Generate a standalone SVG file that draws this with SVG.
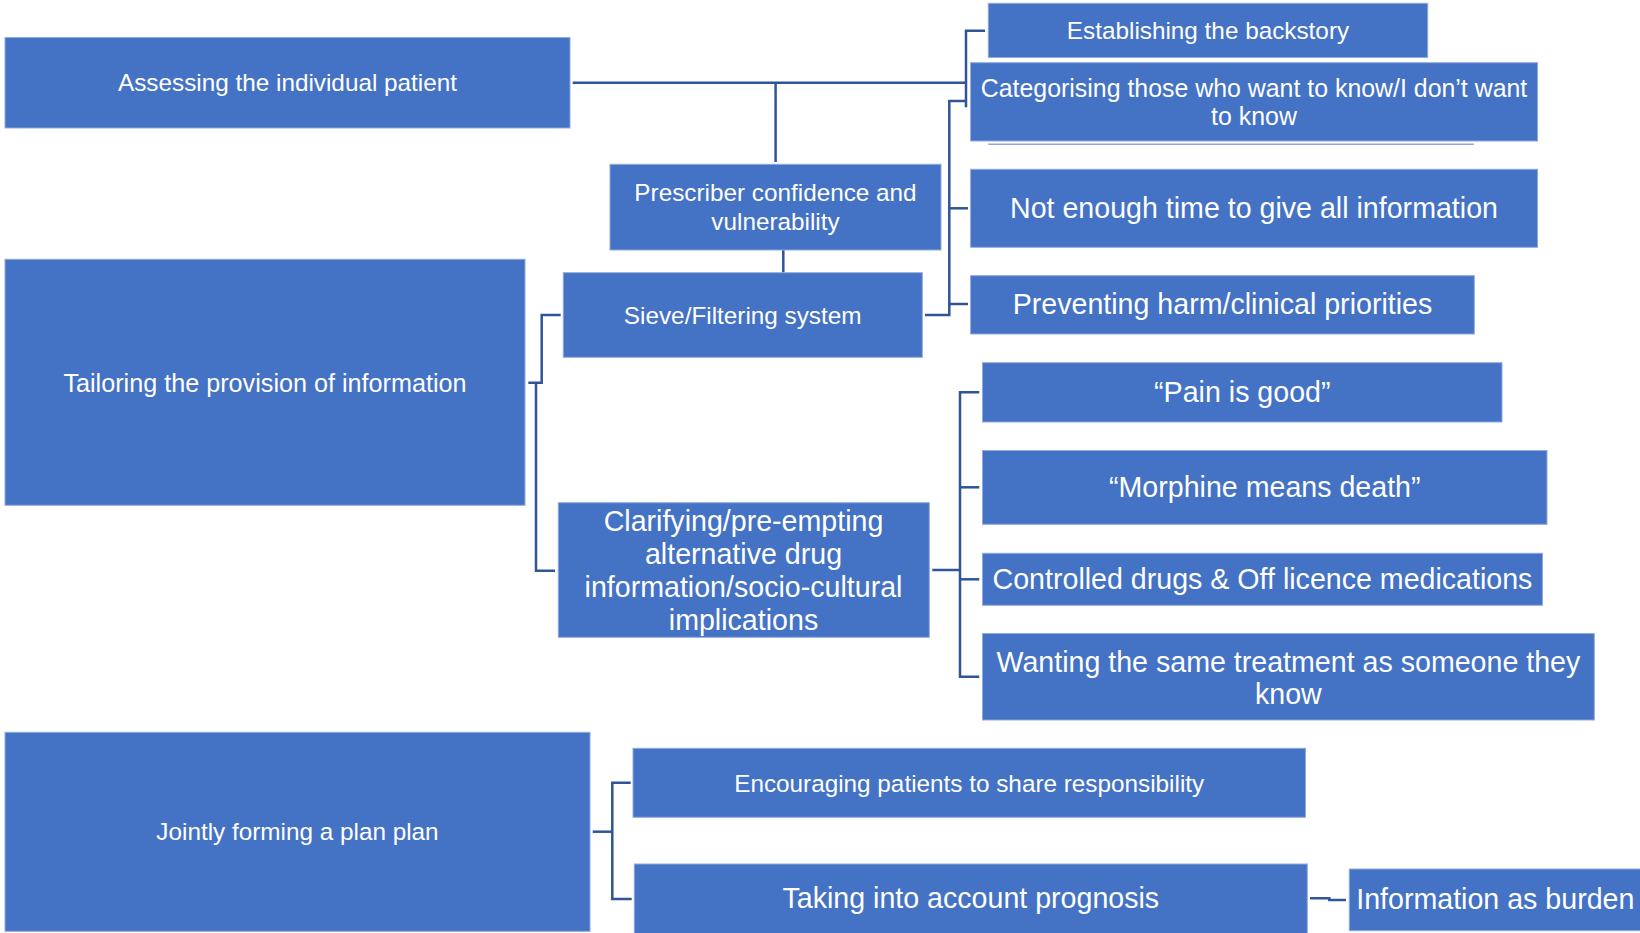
<svg xmlns="http://www.w3.org/2000/svg" width="1640" height="933" viewBox="0 0 1640 933">
<style>
.box{fill:#4472C4;stroke:#8FAADC;stroke-width:1}
.t{fill:#FFFFFF;font-family:"Liberation Sans",Arial,sans-serif;text-anchor:middle;dominant-baseline:central}
.s{font-size:24.3px}
.l{font-size:28.6px}
.c{fill:none;stroke:#2F5597;stroke-width:2.5}
</style>
<rect width="1640" height="933" fill="#FFFFFF"/>
<g id="connectors">
<path class="c" d="M572.7 82.7 H966"/>
<path class="c" d="M775.6 82.7 V162"/>
<path class="c" d="M985 30.7 H966 V107.3"/>
<path class="c" d="M783.3 250 V272.7"/>
<path class="c" d="M925 315 H949.3 V101 H966"/>
<path class="c" d="M949.3 208.3 H968"/>
<path class="c" d="M949.3 304 H968"/>
<path class="c" d="M528.3 382.7 H541.7 V315 H560.7"/>
<path class="c" d="M536 382.7 V570.7 H555"/>
<path class="c" d="M932.3 570 H960"/>
<path class="c" d="M979.3 392.3 H960 V676.7 H979.3"/>
<path class="c" d="M960 487.3 H979.3"/>
<path class="c" d="M960 579.3 H979.3"/>
<path class="c" d="M592.7 831.7 H612.3"/>
<path class="c" d="M630.7 782.7 H612.3 V899 H631.7"/>
<path class="c" d="M1310 898.3 H1329.3 V900 H1346"/>
</g>
<g id="n-assessing"><rect class="box" x="5" y="37.5" width="565" height="90.5"/><text class="t s" x="287.5" y="82.7">Assessing the individual patient</text></g>
<g id="n-establishing"><rect class="box" x="988.3" y="3.3" width="439.4" height="54.2"/><text class="t s" x="1208" y="30.5">Establishing the backstory</text></g>
<g id="n-categorising"><rect class="box" x="970.6" y="62.7" width="567" height="78.3"/><text class="t" style="font-size:24.9px" x="1254" y="88">Categorising those who want to know/I don’t want</text><text class="t" style="font-size:24.9px" x="1254" y="116">to know</text></g>
<line x1="988.3" y1="144.3" x2="1474" y2="144.3" stroke="#8FAADC" stroke-width="1.5"/>
<g id="n-notenough"><rect class="box" x="970.6" y="169.3" width="567" height="78"/><text class="t l" x="1254" y="208.3">Not enough time to give all information</text></g>
<g id="n-preventing"><rect class="box" x="970.6" y="275.7" width="503.7" height="58.3"/><text class="t l" x="1222.5" y="304">Preventing harm/clinical priorities</text></g>
<g id="n-prescriber"><rect class="box" x="610" y="164.3" width="331" height="85.7"/><text class="t s" x="775.5" y="192.5">Prescriber confidence and</text><text class="t s" x="775.5" y="221">vulnerability</text></g>
<g id="n-sieve"><rect class="box" x="563.3" y="272.7" width="359" height="84.6"/><text class="t s" x="742.7" y="315">Sieve/Filtering system</text></g>
<g id="n-tailoring"><rect class="box" x="5" y="259.3" width="520" height="246"/><text class="t" style="font-size:25.2px" x="265" y="382.7">Tailoring the provision of information</text></g>
<g id="n-clarifying"><rect class="box" x="558.3" y="502.7" width="371" height="134.6"/><text class="t l" x="743.5" y="520.5">Clarifying/pre-empting</text><text class="t l" x="743.5" y="553.5">alternative drug</text><text class="t l" x="743.5" y="586.5">information/socio-cultural</text><text class="t l" x="743.5" y="619.5">implications</text></g>
<g id="n-pain"><rect class="box" x="982.5" y="362.7" width="519.5" height="59.3"/><text class="t l" x="1242.3" y="392.3">“Pain is good”</text></g>
<g id="n-morphine"><rect class="box" x="982.5" y="450.5" width="564.5" height="73.8"/><text class="t l" x="1264.8" y="486.7">“Morphine means death”</text></g>
<g id="n-controlled"><rect class="box" x="982.5" y="553.3" width="560" height="52"/><text class="t l" x="1262.5" y="579.3">Controlled drugs &amp; Off licence medications</text></g>
<g id="n-wanting"><rect class="box" x="982.5" y="633.5" width="611.8" height="86.5"/><text class="t l" x="1288.4" y="661.7">Wanting the same treatment as someone they</text><text class="t l" x="1288.4" y="693.5">know</text></g>
<g id="n-jointly"><rect class="box" x="5" y="732.3" width="585" height="199"/><text class="t s" x="297.5" y="831.5">Jointly forming a plan plan</text></g>
<g id="n-encouraging"><rect class="box" x="633" y="748.3" width="672.5" height="69"/><text class="t s" x="969.2" y="783">Encouraging patients to share responsibility</text></g>
<g id="n-taking"><rect class="box" x="634.3" y="864" width="673" height="72"/><text class="t l" x="970.8" y="898.3">Taking into account prognosis</text></g>
<g id="n-info"><rect class="box" x="1349.3" y="869" width="295" height="61.7"/><text class="t l" x="1495.3" y="898.5">Information as burden</text></g>
</svg>
